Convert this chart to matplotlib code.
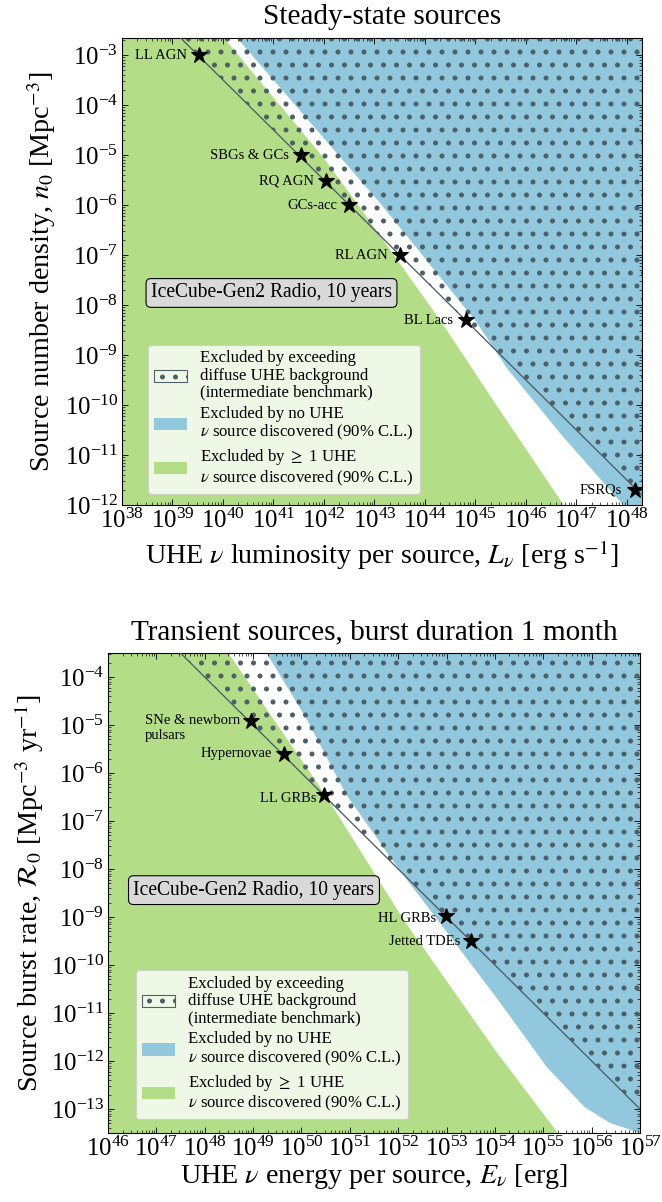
import numpy as np
import matplotlib
matplotlib.use("Agg")
import matplotlib.pyplot as plt
from matplotlib.patches import Patch
from matplotlib.ticker import LogLocator, NullFormatter

plt.rcParams['font.family'] = ['Liberation Serif', 'DejaVu Serif']
plt.rcParams['mathtext.fontset'] = 'stix'
plt.rcParams['hatch.linewidth'] = 2.2

green = '#b3de87'
blue = '#91c8de'
dotcol = '#4e5f65'
linecol = '#4b5c66'

# ---- steady-state sources ----
ss_green_n = [2.2e-3, 1e-5, 1e-6, 5e-9, 1e-10, 1e-12]
ss_green_L = [1.05e40, 8.9e41, 4.8e42, 2.0e44, 2.6e45, 5.6e46]
ss_blue_n = [2.2e-3, 1e-6, 5e-9, 5e-10, 2.3e-11, 1e-12]
ss_blue_L = [1.9e40, 1.4e43, 9.8e44, 4.5e45, 5.5e46, 8.5e47]
ss_diff_L = [1.45e39, 2e48]
ss_diff_n = [2.2e-3, 1.58e-12]
ss_names = ['LL AGN', 'SBGs & GCs', 'RQ AGN', 'GCs-acc', 'RL AGN', 'BL Lacs', 'FSRQs']
ss_L = [3.4e39, 3.5e41, 1.1e42, 3.2e42, 3.2e43, 6.5e44, 1.45e48]
ss_n = [1e-3, 1e-5, 3e-6, 1e-6, 1e-7, 5e-9, 2e-12]

# ---- transient sources, 1 month bursts ----
tr_green_R = [3.16e-4, 3.2e-7, 8.7e-10, 1.5e-12, 3.16e-14]
tr_green_E = [3.1e48, 3.3e50, 1.3e52, 1.1e54, 2.0e55]
tr_blue_R = [3.16e-4, 1.3e-5, 3.5e-7, 1.15e-8, 4e-10, 1.9e-11, 7.6e-13, 1.1e-13, 5.1e-14, 3.16e-14]
tr_blue_E = [1.9e49, 1.3e50, 8.5e50, 9.3e51, 1.17e53, 1.15e54, 1.17e55, 7.1e55, 2.4e56, 1e57]
tr_diff_E = [3.16e47, 1e57]
tr_diff_R = [3.16e-4, 1e-13]
tr_names = ['SNe & newborn\npulsars', 'Hypernovae', 'LL GRBs', 'HL GRBs', 'Jetted TDEs']
tr_E = [9.1e48, 4.4e49, 2.95e50, 9.8e52, 3.2e53]
tr_R = [1.23e-5, 2.5e-6, 3.5e-7, 1.07e-9, 3.1e-10]

leg_labels = ['Excluded by exceeding\ndiffuse UHE background\n(intermediate benchmark)',
              'Excluded by no UHE\n$\\nu$ source discovered (90% C.L.)',
              'Excluded by $\\geq$ 1 UHE\n$\\nu$ source discovered (90% C.L.)']

DPI = 78
fig = plt.figure(figsize=(662 / DPI, 1202 / DPI))
ax1 = fig.add_axes([0.1843, 0.5799, 0.7855, 0.3885])
ax2 = fig.add_axes([0.1631, 0.0574, 0.8037, 0.3993])


def draw_panel(ax, gy, gx, by, bx, dx, dy, px, py, names, offsets, xlim, ylim):
    ax.set_xscale('log')
    ax.set_yscale('log')
    ax.fill_betweenx(gy, 1e20, gx, color=green, lw=0, zorder=1)
    ax.fill_betweenx(by, bx, 1e80, color=blue, lw=0, zorder=1)
    ax.fill_between(dx, dy, 1.0, facecolor='none', edgecolor=dotcol, hatch='.', lw=0, zorder=2)
    ax.plot(dx, dy, color=linecol, lw=1.2, zorder=3)
    ax.plot(px, py, '*', color='k', ms=15, zorder=4)
    for name, x, y, off in zip(names, px, py, offsets):
        va = 'top' if '\n' in name else 'center'
        ax.annotate(name, (x, y), xytext=off, textcoords='offset points',
                    ha='right', va=va, multialignment='left', fontsize=13.5, zorder=5)
    ax.set_xlim(*xlim)
    ax.set_ylim(*ylim)
    for axis in (ax.xaxis, ax.yaxis):
        axis.set_major_locator(LogLocator(base=10, numticks=30))
        axis.set_minor_locator(LogLocator(base=10, subs=np.arange(2, 10), numticks=300))
        axis.set_minor_formatter(NullFormatter())
    ax.tick_params(which='both', direction='in', top=True, right=True, labelsize=23)
    ax.tick_params(which='major', length=5.5, width=0.8, pad=3.5)
    ax.tick_params(which='minor', length=3, width=0.6)
    for sp in ax.spines.values():
        sp.set_linewidth(1.0)


ss_offsets = [(-11.5, 0)] * 6 + [(-12, 0)]
draw_panel(ax1, ss_green_n, ss_green_L, ss_blue_n, ss_blue_L, ss_diff_L, ss_diff_n,
           ss_L, ss_n, ss_names, ss_offsets, (1e38, 2e48), (1e-12, 2.2e-3))
tr_offsets = [(-10.5, 6), (-11.5, 0), (-7, -3), (-9, -3), (-9.5, 0)]
draw_panel(ax2, tr_green_R, tr_green_E, tr_blue_R, tr_blue_E, tr_diff_E, tr_diff_R,
           tr_E, tr_R, tr_names, tr_offsets, (1e46, 1e57), (3.16e-14, 3.16e-4))

ax1.set_title('Steady-state sources', fontsize=27, pad=13)
ax2.set_title('Transient sources, burst duration 1 month', fontsize=27, pad=13)
ax1.set_xlabel(r'UHE $\nu$ luminosity per source, $L_\nu$ [erg s$^{-1}$]', fontsize=26, labelpad=5)
ax1.set_ylabel(r'Source number density, $n_0$ [Mpc$^{-3}$]', fontsize=26, labelpad=6)
ax2.set_xlabel(r'UHE $\nu$ energy per source, $E_\nu$ [erg]', fontsize=26, labelpad=1)
ax2.set_ylabel(r'Source burst rate, $\mathcal{R}_0$ [Mpc$^{-3}$ yr$^{-1}$]', fontsize=26, labelpad=4)

box = dict(boxstyle='round,pad=0.25', fc='#d9d9d9', ec='black', lw=1)
ax1.text(0.2875, 0.454, 'IceCube-Gen2 Radio, 10 years', transform=ax1.transAxes,
         ha='center', va='center', fontsize=18, bbox=box, zorder=6)
ax2.text(0.2744, 0.506, 'IceCube-Gen2 Radio, 10 years', transform=ax2.transAxes,
         ha='center', va='center', fontsize=18, bbox=box, zorder=6)

for ax, anchor in ((ax1, (0.05, 0.0236)), (ax2, (0.0526, 0.029))):
    handles = [Patch(facecolor='none', edgecolor=dotcol, hatch='.', lw=1, label=leg_labels[0]),
               Patch(facecolor=blue, lw=0, label=leg_labels[1]),
               Patch(facecolor=green, lw=0, label=leg_labels[2])]
    leg = ax.legend(handles=handles, loc='lower left', bbox_to_anchor=anchor, borderaxespad=0,
                    fontsize=15.5, handlelength=2.0, handleheight=0.75, handletextpad=0.75,
                    labelspacing=0.3, borderpad=0.35)
    for t in leg.get_texts():
        t.set_linespacing(1.1)
    leg.set_zorder(7)

fig.savefig('out.png', dpi=DPI)
